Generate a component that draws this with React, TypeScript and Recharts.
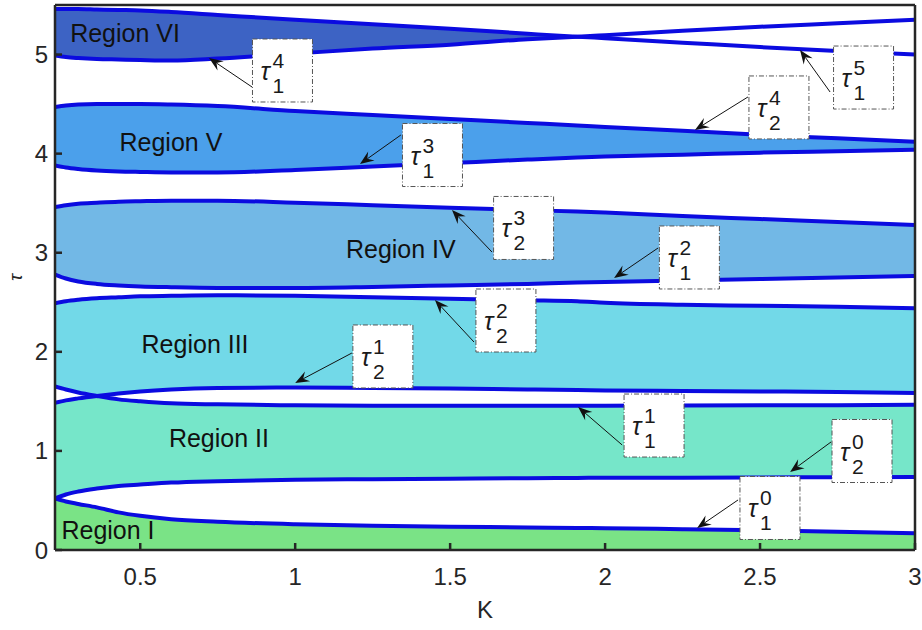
import React from "react";
import {
  Area,
  ComposedChart,
  Label,
  Line,
  ReferenceDot,
  ReferenceLine,
  XAxis,
  YAxis,
} from "recharts";

const FONT = "'Liberation Sans', Arial, sans-serif";
const INK = "#262626";
const CURVE = "#0b0be0";

// K samples shared by every boundary curve
const kValues = [0.225, 0.26, 0.3, 0.36, 0.43, 0.5, 0.6, 0.75, 1, 1.25, 1.5, 1.75, 1.91, 2, 2.25, 2.5, 2.75, 3];

// delay boundaries tau_j^n(K)
const tau1_0 = [0.52, 0.49, 0.465, 0.43, 0.38, 0.345, 0.31, 0.285, 0.26, 0.245, 0.235, 0.228, 0.222, 0.22, 0.21, 0.2, 0.185, 0.17];
const tau2_0 = [0.52, 0.56, 0.59, 0.62, 0.645, 0.66, 0.68, 0.695, 0.71, 0.715, 0.72, 0.725, 0.727, 0.73, 0.73, 0.732, 0.735, 0.737];
const tau1_1 = [1.65, 1.62, 1.59, 1.555, 1.52, 1.5, 1.48, 1.47, 1.46, 1.455, 1.455, 1.455, 1.455, 1.456, 1.458, 1.46, 1.462, 1.465];
const tau2_1 = [1.485, 1.51, 1.53, 1.555, 1.58, 1.6, 1.62, 1.635, 1.64, 1.635, 1.63, 1.62, 1.615, 1.61, 1.605, 1.6, 1.595, 1.585];
const tau2_2 = [2.49, 2.51, 2.525, 2.54, 2.55, 2.56, 2.565, 2.57, 2.565, 2.55, 2.535, 2.52, 2.51, 2.495, 2.475, 2.465, 2.455, 2.44];
const tau1_2 = [2.78, 2.74, 2.71, 2.685, 2.67, 2.66, 2.652, 2.645, 2.645, 2.655, 2.67, 2.685, 2.7, 2.705, 2.72, 2.735, 2.75, 2.765];
const tau2_3 = [3.46, 3.48, 3.495, 3.505, 3.515, 3.52, 3.525, 3.525, 3.505, 3.48, 3.455, 3.43, 3.415, 3.405, 3.37, 3.34, 3.31, 3.28];
const tau1_3 = [3.88, 3.86, 3.845, 3.83, 3.82, 3.815, 3.81, 3.81, 3.835, 3.87, 3.905, 3.94, 3.96, 3.97, 3.99, 4.01, 4.025, 4.04];
const tau2_4 = [4.47, 4.485, 4.495, 4.5, 4.5, 4.5, 4.495, 4.48, 4.43, 4.39, 4.35, 4.31, 4.285, 4.27, 4.23, 4.19, 4.155, 4.12];
const tau1_4 = [4.99, 4.975, 4.965, 4.955, 4.95, 4.945, 4.94, 4.96, 5.01, 5.06, 5.1, 5.155, 5.18, 5.195, 5.24, 5.28, 5.315, 5.35];
const tau1_5 = [5.46, 5.46, 5.46, 5.455, 5.45, 5.445, 5.43, 5.4, 5.35, 5.305, 5.26, 5.21, 5.18, 5.165, 5.12, 5.075, 5.035, 5.0];

// the two upper curves cross here; region VI closes at this K
const kCross = 1.91;

const xTicks = [0.5, 1, 1.5, 2, 2.5, 3];
const yTicks = [0, 1, 2, 3, 4, 5];

const regionColors = ["#7ae386", "#76e6c9", "#72d9e8", "#72b8e6", "#4ba0eb", "#3d63c4"];

const regionLabels = [
  { text: "Region I", k: 0.396, tau: 0.2 },
  { text: "Region II", k: 0.754, tau: 1.13 },
  { text: "Region III", k: 0.677, tau: 2.08 },
  { text: "Region IV", k: 1.341, tau: 3.04 },
  { text: "Region V", k: 0.599, tau: 4.12 },
  { text: "Region VI", k: 0.451, tau: 5.22 },
];

// callouts: box centre, arrow tail and arrow tip, all in (K, tau)
const callouts = [
  { sub: "1", sup: "4", box: [0.959, 4.839], tail: [0.861, 4.672], tip: [0.722, 4.965] },
  { sub: "1", sup: "5", box: [2.834, 4.768], tail: [2.726, 4.622], tip: [2.629, 5.046] },
  { sub: "2", sup: "4", box: [2.561, 4.466], tail: [2.461, 4.572], tip: [2.29, 4.239] },
  { sub: "1", sup: "3", box: [1.443, 3.986], tail: [1.341, 4.188], tip: [1.209, 3.895] },
  { sub: "2", sup: "3", box: [1.737, 3.25], tail: [1.635, 3.007], tip: [1.506, 3.431] },
  { sub: "1", sup: "2", box: [2.272, 2.952], tail: [2.171, 3.048], tip: [2.029, 2.745] },
  { sub: "2", sup: "2", box: [1.68, 2.316], tail: [1.577, 2.099], tip: [1.451, 2.523] },
  { sub: "2", sup: "1", box: [1.283, 1.953], tail: [1.183, 1.988], tip: [1.0, 1.685] },
  { sub: "1", sup: "1", box: [2.158, 1.256], tail: [2.055, 1.06], tip: [1.913, 1.443] },
  { sub: "2", sup: "0", box: [2.829, 0.999], tail: [2.729, 1.09], tip: [2.597, 0.787] },
  { sub: "1", sup: "0", box: [2.532, 0.424], tail: [2.429, 0.505], tip: [2.297, 0.222] },
];

const curves = [tau1_0, tau2_0, tau1_1, tau2_1, tau2_2, tau1_2, tau2_3, tau1_3, tau2_4, tau1_4, tau1_5];

const rows = kValues.map((k, i) => {
  const row: Record<string, any> = { K: k };
  curves.forEach((c, j) => (row["c" + j] = c[i]));
  row.r1 = [0, tau1_0[i]];
  row.r2 = [tau2_0[i], Math.min(tau1_1[i], tau2_1[i])];
  row.r3 = [Math.max(tau1_1[i], tau2_1[i]), tau2_2[i]];
  row.r4 = [tau1_2[i], tau2_3[i]];
  row.r5 = [tau1_3[i], tau2_4[i]];
  row.r6 = k <= kCross ? [tau1_4[i], tau1_5[i]] : null;
  return row;
});

function TauBox({ cx, cy, sub, sup }: any) {
  const x = cx - 30;
  const y = cy - 31.5;
  return (
    <g>
      <rect x={x} y={y} width={60} height={63} fill="#fff" stroke="#555" strokeWidth={1} strokeDasharray="5 2 1 2" />
      <text x={x + 8} y={y + 41} fontSize={25} fontStyle="italic" fontFamily={FONT} fill="#1a1a1a">
        τ
      </text>
      <text x={x + 20} y={y + 29} fontSize={21} fontFamily={FONT} fill="#1a1a1a">
        {sup}
      </text>
      <text x={x + 20} y={y + 54} fontSize={21} fontFamily={FONT} fill="#1a1a1a">
        {sub}
      </text>
    </g>
  );
}

function Arrow({ x1, y1, x2, y2 }: any) {
  const len = Math.hypot(x2 - x1, y2 - y1) || 1;
  const ux = (x2 - x1) / len;
  const uy = (y2 - y1) / len;
  const nx = -uy;
  const ny = ux;
  const L = 14;
  const W = 5.5;
  const back = 9;
  const pts = [
    [x2, y2],
    [x2 - ux * L + nx * W, y2 - uy * L + ny * W],
    [x2 - ux * back, y2 - uy * back],
    [x2 - ux * L - nx * W, y2 - uy * L - ny * W],
  ];
  return (
    <g>
      <line x1={x1} y1={y1} x2={x2 - ux * back} y2={y2 - uy * back} stroke="#111" strokeWidth={1} />
      <polygon points={pts.map((p) => p.join(",")).join(" ")} fill="#111" />
    </g>
  );
}

export default function App() {
  return (
    <div style={{ position: "absolute", left: 0, top: 0, width: 922, height: 630, background: "#fff" }}>
      <ComposedChart width={922} height={630} data={rows} margin={{ top: 0, right: 0, bottom: 0, left: 0 }}>
        <XAxis
          dataKey="K"
          type="number"
          domain={[0.225, 3]}
          ticks={xTicks}
          allowDataOverflow
          height={80}
          tickSize={-7}
          tickMargin={25}
          axisLine={{ stroke: INK, strokeWidth: 2.5 }}
          tickLine={{ stroke: INK, strokeWidth: 2.5 }}
          tick={{ fill: INK, fontSize: 24, fontFamily: FONT }}
        >
          <Label
            content={(p: any) => (
              <text x={p.viewBox.x + p.viewBox.width / 2} y={p.viewBox.y + 68} textAnchor="middle" fontSize={24} fontFamily={FONT} fill={INK}>
                K
              </text>
            )}
          />
        </XAxis>
        <XAxis
          xAxisId="top"
          orientation="top"
          type="number"
          domain={[0.225, 3]}
          ticks={xTicks}
          allowDataOverflow
          height={5}
          tickSize={-7}
          tick={false}
          axisLine={{ stroke: INK, strokeWidth: 2.5 }}
          tickLine={{ stroke: INK, strokeWidth: 2.5 }}
        />
        <YAxis
          type="number"
          domain={[0, 5.5]}
          ticks={yTicks}
          allowDataOverflow
          width={55}
          tickSize={-7}
          tickMargin={14}
          axisLine={{ stroke: INK, strokeWidth: 2.5 }}
          tickLine={{ stroke: INK, strokeWidth: 2.5 }}
          tick={{ fill: INK, fontSize: 24, fontFamily: FONT }}
        >
          <Label
            content={(p: any) => {
              const cy = p.viewBox.y + p.viewBox.height / 2;
              return (
                <text x={15} y={cy} transform={`rotate(-90 15 ${cy})`} textAnchor="middle" dominantBaseline="central" fontSize={19} fontStyle="italic" fontFamily={FONT} fill={INK}>
                  τ
                </text>
              );
            }}
          />
        </YAxis>
        <YAxis
          yAxisId="right"
          orientation="right"
          type="number"
          domain={[0, 5.5]}
          ticks={yTicks}
          allowDataOverflow
          width={7}
          tickSize={-7}
          tick={false}
          axisLine={{ stroke: INK, strokeWidth: 2.5 }}
          tickLine={{ stroke: INK, strokeWidth: 2.5 }}
        />

        {["r1", "r2", "r3", "r4", "r5", "r6"].map((key, i) => (
          <Area
            key={key}
            dataKey={key}
            type="monotone"
            stroke="none"
            fill={regionColors[i]}
            fillOpacity={1}
            isAnimationActive={false}
            activeDot={false}
          />
        ))}

        {curves.map((_, j) => (
          <Line
            key={"c" + j}
            dataKey={"c" + j}
            type="monotone"
            stroke={CURVE}
            strokeWidth={4}
            dot={false}
            activeDot={false}
            isAnimationActive={false}
          />
        ))}

        {regionLabels.map((r) => (
          <ReferenceDot
            key={r.text}
            x={r.k}
            y={r.tau}
            r={0}
            shape={(p: any) => (
              <text x={p.cx} y={p.cy} textAnchor="middle" dominantBaseline="central" fontSize={25} fontFamily={FONT} fill="#111">
                {r.text}
              </text>
            )}
          />
        ))}

        {callouts.map((c, i) => (
          <ReferenceLine
            key={"a" + i}
            segment={[
              { x: c.tail[0], y: c.tail[1] },
              { x: c.tip[0], y: c.tip[1] },
            ]}
            shape={(p: any) => <Arrow {...p} />}
          />
        ))}

        {callouts.map((c, i) => (
          <ReferenceDot
            key={"b" + i}
            x={c.box[0]}
            y={c.box[1]}
            r={0}
            shape={(p: any) => <TauBox cx={p.cx} cy={p.cy} sub={c.sub} sup={c.sup} />}
          />
        ))}
      </ComposedChart>
    </div>
  );
}
